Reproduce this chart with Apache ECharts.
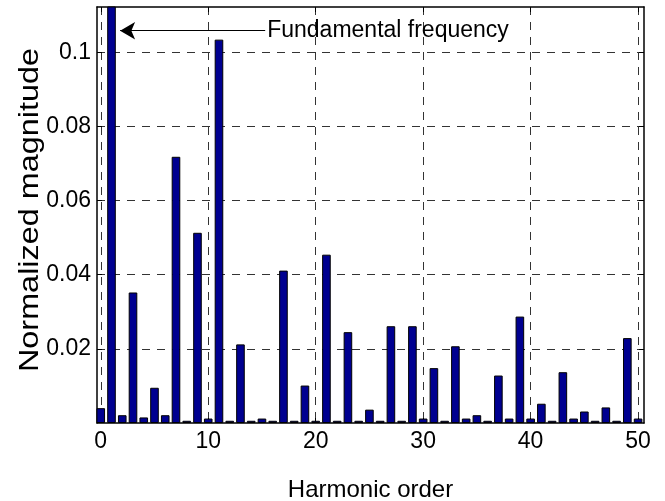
<!DOCTYPE html>
<html>
<head>
<meta charset="utf-8">
<script src="https://cdn.jsdelivr.net/npm/echarts@6/dist/echarts.min.js"></script>
<style>
  html, body { margin: 0; padding: 0; background: #fff; }
  #chart { width: 665px; height: 501px; }
</style>
</head>
<body>
<div id="chart"></div>
<script>
// 谐波次数 0..50
const orders = [0, 1, 2, 3, 4, 5, 6, 7, 8, 9, 10, 11, 12, 13, 14, 15, 16, 17, 18, 19, 20,
  21, 22, 23, 24, 25, 26, 27, 28, 29, 30, 31, 32, 33, 34, 35, 36, 37, 38, 39, 40,
  41, 42, 43, 44, 45, 46, 47, 48, 49, 50]
// 归一化幅值 (基波 = 1，超出显示范围)
const magnitudes = [0.004, 1, 0.0021, 0.0352, 0.0015, 0.0095, 0.0021, 0.0718, 0.0006, 0.0513, 0.0012,
  0.1034, 0.0006, 0.0212, 0.0006, 0.0012, 0.0006, 0.0411, 0.0006, 0.0101, 0.0006,
  0.0454, 0.0006, 0.0245, 0.0006, 0.0036, 0.0006, 0.0261, 0.0006, 0.0261, 0.0012,
  0.0148, 0.0006, 0.0207, 0.0012, 0.0021, 0.0006, 0.0128, 0.0012, 0.0287, 0.0012,
  0.0052, 0.0006, 0.0137, 0.0012, 0.0031, 0.0006, 0.0042, 0.0006, 0.0229, 0.0012]
const xTicks = [0, 10, 20, 30, 40, 50]
const yTicks = [0.02, 0.04, 0.06, 0.08, 0.1]
// 箭头标注
const arrowFrom = [15.3, 0.1058]
const arrowTo = [1.8, 0.1058]
const noteText = 'Fundamental frequency'

const font = 'Liberation Sans, Arial, Helvetica, sans-serif'
const myEcharts = echarts.init(document.getElementById('chart'))

const frameAxis = {
  axisLine: { show: true, onZero: false, lineStyle: { color: '#000', width: 1.5 } },
  axisTick: { show: true, inside: true, length: 5, lineStyle: { color: '#000', width: 1 } }
}
const gridLine = { show: true, lineStyle: { color: '#333', width: 1, type: [8, 7] } }

const option = {
  animation: false,
  grid: { left: 97, right: 21, top: 7, bottom: 78, containLabel: false, outerBoundsMode: 'none' },
  xAxis: [
    {
      type: 'value',
      min: -0.35,
      max: 50.55,
      position: 'bottom',
      axisLine: frameAxis.axisLine,
      axisTick: Object.assign({}, frameAxis.axisTick, { customValues: xTicks }),
      axisLabel: { customValues: xTicks, color: '#000', fontSize: 23, fontFamily: font, margin: 7 },
      splitLine: gridLine,
      name: 'Harmonic order',
      nameLocation: 'middle',
      nameGap: 55,
      nameTextStyle: { color: '#000', fontSize: 24, fontFamily: font }
    },
    {
      type: 'value',
      min: -0.35,
      max: 50.55,
      position: 'top',
      axisLine: frameAxis.axisLine,
      axisTick: Object.assign({}, frameAxis.axisTick, { customValues: xTicks }),
      axisLabel: { show: false, customValues: xTicks },
      splitLine: { show: false }
    }
  ],
  yAxis: [
    {
      type: 'value',
      min: 0,
      max: 0.1122,
      position: 'left',
      axisLine: frameAxis.axisLine,
      axisTick: Object.assign({}, frameAxis.axisTick, { customValues: yTicks }),
      axisLabel: { customValues: yTicks, color: '#000', fontSize: 23, fontFamily: font, margin: 6 },
      splitLine: gridLine
    },
    {
      type: 'value',
      min: 0,
      max: 0.1122,
      position: 'right',
      axisLine: frameAxis.axisLine,
      axisTick: Object.assign({}, frameAxis.axisTick, { customValues: yTicks }),
      axisLabel: { show: false, customValues: yTicks },
      splitLine: { show: false }
    }
  ],
  graphic: [{
    type: 'text',
    x: 31,
    y: 210,
    rotation: Math.PI / 2,
    scaleX: 1.2,
    style: {
      text: 'Normalized magnitude',
      font: '27px ' + font,
      fill: '#000',
      textAlign: 'center',
      textVerticalAlign: 'middle'
    }
  }],
  series: [{
    type: 'bar',
    xAxisIndex: 0,
    yAxisIndex: 0,
    barWidth: 8.6,
    data: orders.map((o, i) => [o, magnitudes[i]]),
    itemStyle: { color: '#000090', borderColor: '#000', borderWidth: 1 },
    markLine: {
      silent: true,
      symbol: ['none', 'arrow'],
      symbolSize: [13, 15],
      lineStyle: { color: '#000', width: 1, type: 'solid' },
      label: {
        show: true,
        position: 'start',
        formatter: noteText,
        color: '#000',
        fontSize: 23,
        fontFamily: font,
        distance: 2
      },
      data: [[{ coord: arrowFrom }, { coord: arrowTo }]]
    }
  }]
}
myEcharts.setOption(option)
</script>
</body>
</html>
